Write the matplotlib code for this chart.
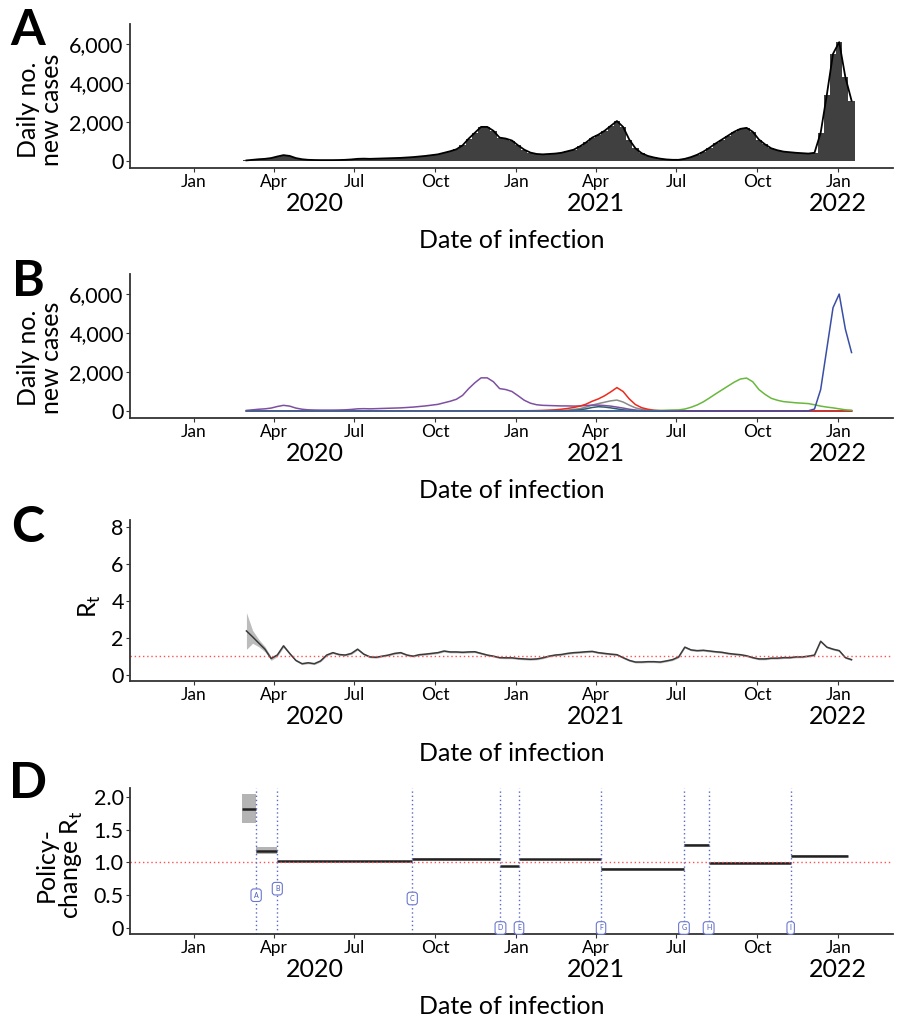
import matplotlib
matplotlib.use('Agg')
import matplotlib.pyplot as plt
import pandas as pd

plt.rcParams['font.family'] = ['Lato', 'DejaVu Sans']

W, H = 900, 1022

# ---- data (weekly readings, week starting 2020-03-01) ----
week_dates = pd.date_range('2020-03-01', periods=99, freq='7D')

total_cases = [30, 60, 90, 110, 150, 230, 300, 260, 150, 90,
               60, 50, 45, 45, 45, 50, 60, 80, 110, 120,
               110, 120, 130, 140, 150, 160, 180, 200, 230, 260,
               300, 340, 420, 500, 600, 800, 1150, 1450, 1750, 1750,
               1550, 1200, 1150, 1050, 800, 580, 430, 360, 340, 360,
               380, 420, 500, 580, 750, 950, 1200, 1350, 1550, 1800,
               2050, 1750, 1100, 650, 400, 260, 180, 120, 80, 60,
               60, 110, 200, 320, 480, 680, 900, 1100, 1300, 1500,
               1650, 1700, 1500, 1100, 850, 650, 550, 480, 450, 420,
               400, 380, 420, 1450, 3400, 5500, 6100, 4300, 3100]

purple = [30, 60, 90, 110, 150, 230, 290, 250, 150, 90,
          60, 50, 45, 45, 45, 50, 60, 80, 110, 120,
          110, 120, 130, 140, 150, 160, 180, 200, 230, 260,
          300, 340, 420, 500, 600, 800, 1150, 1450, 1700, 1700,
          1500, 1150, 1100, 1000, 780, 550, 400, 320, 290, 280,
          270, 260, 260, 250, 260, 280, 300, 300, 280, 250,
          200, 150, 90, 50, 25, 10] + [0] * 33
red = [0] * 44 + [5, 10, 15, 20, 30, 45, 60, 90, 130, 180,
                  250, 350, 500, 620, 780, 980, 1200, 1000, 620, 330,
                  170, 90, 40, 15, 5] + [0] * 30
grey = [0] * 48 + [5, 10, 15, 25, 45, 80, 120, 200, 300, 380,
                   450, 520, 560, 460, 300, 160, 90, 45, 20, 10,
                   5] + [0] * 30
teal = [0] * 52 + [10, 30, 60, 110, 180, 220, 200, 160, 110, 60,
                   30, 10] + [0] * 35
green = [0] * 60 + [5, 5, 5, 10, 10, 15, 20, 30, 40, 50,
                    55, 100, 190, 310, 470, 670, 880, 1080, 1280, 1480,
                    1640, 1690, 1500, 1100, 850, 650, 550, 480, 450, 420,
                    400, 380, 320, 250, 200, 160, 110, 60, 40]
blue = [0] * 91 + [10, 100, 1100, 3200, 5300, 6000, 4200, 3000]

rt = [2.37, 2.05, 1.71, 1.38, 0.87, 1.06, 1.56, 1.15, 0.77, 0.59,
      0.64, 0.59, 0.74, 1.06, 1.19, 1.09, 1.06, 1.15, 1.38, 1.11,
      0.96, 0.94, 1.00, 1.06, 1.15, 1.19, 1.06, 1.00, 1.08, 1.11,
      1.15, 1.19, 1.28, 1.23, 1.23, 1.21, 1.23, 1.24, 1.15, 1.06,
      1.00, 0.92, 0.91, 0.91, 0.87, 0.85, 0.83, 0.85, 0.91, 1.00,
      1.06, 1.09, 1.15, 1.19, 1.21, 1.24, 1.26, 1.19, 1.15, 1.11,
      1.08, 0.92, 0.77, 0.68, 0.68, 0.70, 0.70, 0.68, 0.74, 0.81,
      0.96, 1.49, 1.34, 1.30, 1.32, 1.28, 1.24, 1.21, 1.15, 1.11,
      1.08, 1.02, 0.92, 0.85, 0.85, 0.89, 0.89, 0.92, 0.92, 0.96,
      0.96, 1.00, 1.06, 1.81, 1.49, 1.38, 1.30, 0.92, 0.81]
rt_halfwidth = [1.0, 0.35, 0.2, 0.14, 0.1, 0.08, 0.08] + [0.05] * 92

policy_breaks = ['2020-02-25', '2020-03-12', '2020-04-05', '2020-09-05',
                 '2020-12-14', '2021-01-04', '2021-04-07', '2021-07-10',
                 '2021-08-07', '2021-11-08', '2022-01-12']
policy_rt = [1.82, 1.18, 1.02, 1.06, 0.94, 1.05, 0.90, 1.27, 0.99, 1.10]
policy_lo = [1.61, 1.13, 1.01, 1.05, 0.93, 1.04, 0.89, 1.26, 0.98, 1.09]
policy_hi = [2.04, 1.23, 1.03, 1.07, 0.95, 1.06, 0.91, 1.28, 1.00, 1.11]
change_labels = ['A', 'B', 'C', 'D', 'E', 'F', 'G', 'H', 'I']
change_label_y = [0.5, 0.6, 0.45, 0, 0, 0, 0, 0, 0]

month_ticks = pd.date_range('2020-01-01', '2022-01-01', freq='3MS')
month_labels = [d.strftime('%b') for d in month_ticks]
year_labels = ['2020', '2021', '2022']
year_label_dates = ['2020-05-18', '2021-04-01', '2022-01-01']

XMIN, XMAX = pd.Timestamp('2019-10-21'), pd.Timestamp('2022-03-04')
AXC = '#333333'

fig = plt.figure(figsize=(W / 100, H / 100), dpi=100)


def panel(left, top, right, bottom):
    return fig.add_axes([left / W, 1 - bottom / H, (right - left) / W, (bottom - top) / H])


def style(ax, ylim, yticks, ytl, ylabel, ylab_xy, letter, letter_y):
    ax.set_xlim(XMIN, XMAX)
    ax.set_ylim(*ylim)
    for s in ['top', 'right']:
        ax.spines[s].set_visible(False)
    for s in ['left', 'bottom']:
        ax.spines[s].set_linewidth(1.3)
        ax.spines[s].set_color(AXC)
    ax.set_xticks(month_ticks)
    ax.set_xticklabels(month_labels, fontsize=12.5)
    ax.set_yticks(yticks)
    ax.set_yticklabels(ytl, fontsize=15.5)
    ax.tick_params(length=3, width=0.8, color=AXC, pad=1.5)
    for lab, d in zip(year_labels, year_label_dates):
        ax.annotate(lab, xy=(pd.Timestamp(d), 0), xycoords=('data', 'axes fraction'),
                    xytext=(0, -25.5), textcoords='offset points',
                    ha='center', va='center', fontsize=18)
    ax.annotate('Date of infection', xy=(0.5, 0), xycoords='axes fraction',
                xytext=(0, -52), textcoords='offset points',
                ha='center', va='center', fontsize=18)
    fig.text(ylab_xy[0] / W, 1 - ylab_xy[1] / H, ylabel, rotation=90, fontsize=18,
             linespacing=1.0, ha='center', va='center', multialignment='center')
    fig.text(28 / W, 1 - letter_y / H, letter, fontsize=36, fontweight='bold',
             ha='center', va='center')


# A: total daily cases
axA = panel(130, 24, 893, 168)
axA.bar(week_dates, total_cases, width=7, color='#404040', linewidth=0)
axA.plot(week_dates, total_cases, color='black', lw=1.3)
style(axA, (-360, 7030), [0, 2000, 4000, 6000], ['0', '2,000', '4,000', '6,000'],
      'Daily no.\nnew cases', (40, 110), 'A', 30)

# B: cases by variant
axB = panel(130, 274, 893, 418)
axB.plot(week_dates, grey, color='#8a8a8a', lw=1.1)
axB.plot(week_dates, purple, color='#7e4fa2', lw=1.1)
axB.plot(week_dates, teal, color='#2f5d6e', lw=1.1)
axB.plot(week_dates, red, color='#ee2a1c', lw=1.1)
axB.plot(week_dates, green, color='#68b83c', lw=1.1)
axB.plot(week_dates, blue, color='#3a4ea6', lw=1.1)
style(axB, (-360, 7030), [0, 2000, 4000, 6000], ['0', '2,000', '4,000', '6,000'],
      'Daily no.\nnew cases', (40, 358), 'B', 282)

# C: time-varying Rt
axC = panel(130, 520, 893, 681)
lo = [r - h for r, h in zip(rt, rt_halfwidth)]
hi = [r + h for r, h in zip(rt, rt_halfwidth)]
axC.fill_between(week_dates, lo, hi, color='#a0a0a0', alpha=0.7, linewidth=0)
axC.plot(week_dates, rt, color='#3a3a3a', lw=1.1)
axC.axhline(1, color='#ff5050', lw=1, ls=(0, (1, 2)))
style(axC, (-0.35, 8.4), [0, 2, 4, 6, 8], ['0', '2', '4', '6', '8'],
      'R$_\\mathregular{t}$', (90, 606), 'C', 527)

# D: policy-change Rt
axD = panel(130, 788, 893, 934)
breaks = pd.to_datetime(policy_breaks)
for i in range(len(policy_rt)):
    axD.fill_between([breaks[i], breaks[i + 1]], policy_lo[i], policy_hi[i],
                     color='#b4b4b4', linewidth=0)
    axD.hlines(policy_rt[i], breaks[i], breaks[i + 1], color='#222222', lw=1.8)
axD.axhline(1, color='#ff5050', lw=1, ls=(0, (1, 2)))
for d, lab, ly in zip(breaks[1:-1], change_labels, change_label_y):
    axD.axvline(d, color='#5a68c8', lw=1, ls=(0, (1, 2)))
    axD.text(d, ly, lab, fontsize=5, color='#4a58b8', ha='center', va='center',
             bbox=dict(boxstyle='round,pad=0.4', fc='white', ec='#6a78d0', lw=0.8))
style(axD, (-0.092, 2.137), [0, 0.5, 1.0, 1.5, 2.0], ['0', '0.5', '1.0', '1.5', '2.0'],
      'Policy-\nchange R$_\\mathregular{t}$', (60, 865), 'D', 783)

fig.savefig('out.png', dpi=100)
